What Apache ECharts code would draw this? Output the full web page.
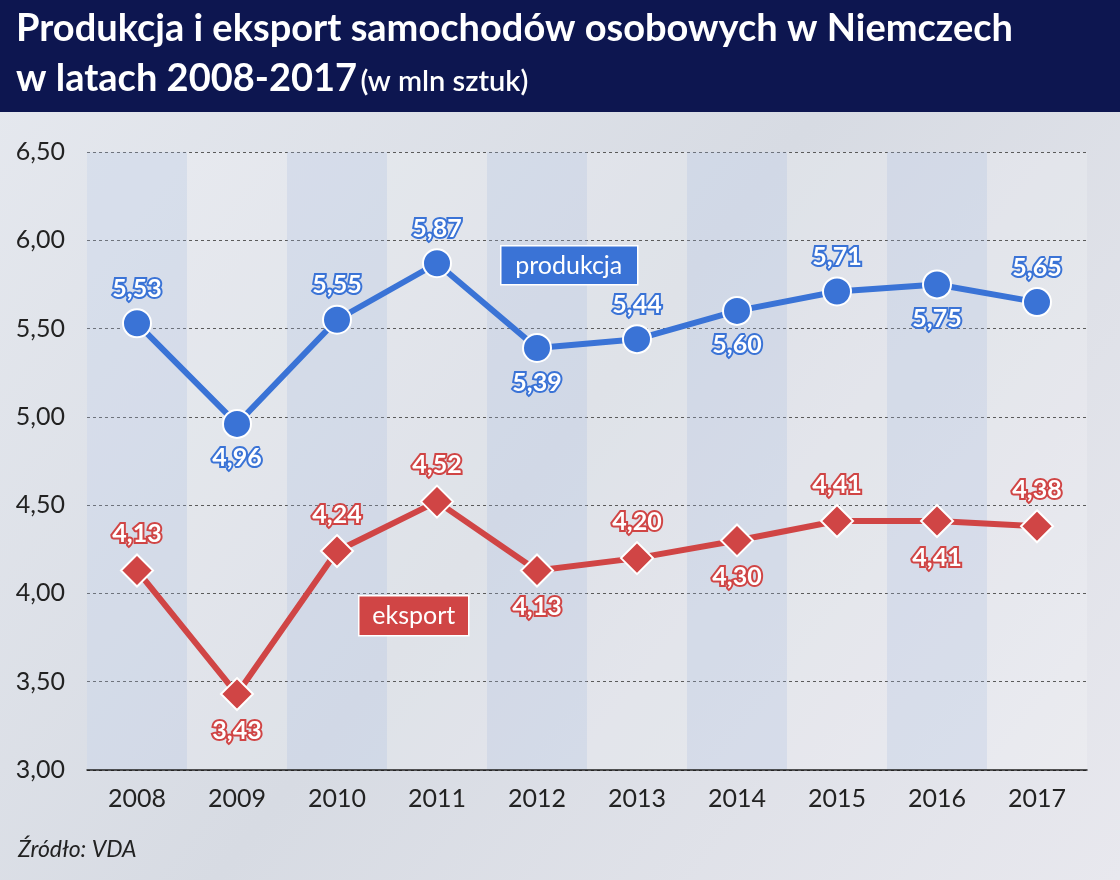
<!DOCTYPE html>
<html><head><meta charset="utf-8">
<script src="https://cdn.jsdelivr.net/npm/echarts@6/dist/echarts.min.js"></script>
<style>html,body{margin:0;padding:0}#c{width:1120px;height:880px}</style>
</head><body><div id="c"></div>
<script>
const years = ['2008','2009','2010','2011','2012','2013','2014','2015','2016','2017'];
const produkcja = [5.53,4.96,5.55,5.87,5.39,5.44,5.60,5.71,5.75,5.65];
const eksport = [4.13,3.43,4.24,4.52,4.13,4.20,4.30,4.41,4.41,4.38];
const prodPos = ['top','bottom','top','top','bottom','top','bottom','top','bottom','top'];
const eksPos = ['top','bottom','top','top','bottom','top','bottom','top','bottom','top'];
const fmt = v => v.toFixed(2).replace('.', ',');
function mk(vals, pos, color){
  return vals.map((v,i)=>({value:v,label:{position:pos[i],distance:7,
    formatter:fmt(v),color:'#fff',fontFamily:'Lato',fontWeight:'bold',fontSize:25,
    textBorderColor:color,textBorderWidth:4}}));
}
const chart = echarts.init(document.getElementById('c'));
chart.setOption({
  backgroundColor:{type:'linear',x:0,y:0,x2:1,y2:1,colorStops:[{offset:0,color:'#e6e9ef'},{offset:0.5,color:'#d7dbe3'},{offset:1,color:'#e8e8ee'}]},
  animation:false,
  graphic:[
    {type:'rect',left:0,top:0,z:10,shape:{width:1120,height:112},style:{fill:'#0d1650'}},
    {type:'text',left:16,top:10,z:11,style:{text:'Produkcja i eksport samochodów osobowych w Niemczech',fill:'#fff',font:'bold 38px Lato'}},
    {type:'text',left:16,top:60,z:11,style:{rich:{a:{fill:'#fff',font:'bold 38px Lato'},b:{fill:'#fff',font:'600 29px Lato',padding:[6,0,0,0]}},text:'{a|w latach 2008-2017} {b|(w mln sztuk)}'}},
    {type:'text',left:18,top:838,z:11,style:{text:'Źródło: VDA',fill:'#222',font:'italic 23px Lato'}},
    {type:'group',left:500,top:245,z:10,children:[
      {type:'rect',z:10,shape:{width:137,height:39},style:{fill:'#3a73d6',stroke:'#fff',lineWidth:1.5}},
      {type:'text',z:11,x:68,y:20,style:{text:'produkcja',fill:'#fff',font:'25px Lato',align:'center',verticalAlign:'middle'}}]},
    {type:'group',left:358,top:595,z:10,children:[
      {type:'rect',z:10,shape:{width:110,height:40},style:{fill:'#d04545',stroke:'#fff',lineWidth:1.5}},
      {type:'text',z:11,x:55,y:20,style:{text:'eksport',fill:'#fff',font:'25px Lato',align:'center',verticalAlign:'middle'}}]}
  ],
  grid:{left:87,right:33,top:152,bottom:110},
  xAxis:{type:'category',data:years,
    axisLine:{lineStyle:{color:'#222',width:1.5}},axisTick:{show:false},
    axisLabel:{color:'#222',fontFamily:'Lato',fontSize:25,margin:16},
    splitArea:{show:true,areaStyle:{color:['rgba(200,212,235,0.4)','rgba(255,255,255,0.2)']}}},
  yAxis:{type:'value',min:3,max:6.5,interval:0.5,
    axisLine:{show:false},axisTick:{show:false},
    axisLabel:{color:'#222',fontFamily:'Lato',fontSize:25,margin:22,formatter:v=>fmt(v)},
    splitLine:{lineStyle:{color:'#333',type:[3,3],width:1}}},
  series:[
    {type:'line',data:mk(produkcja,prodPos,'#3a73d6'),symbol:'circle',symbolSize:28,
     lineStyle:{color:'#3a73d6',width:6},itemStyle:{color:'#3a73d6',borderColor:'#fff',borderWidth:2},
     label:{show:true},z:3},
    {type:'line',data:mk(eksport,eksPos,'#d04545'),symbol:'diamond',symbolSize:32,
     lineStyle:{color:'#d04545',width:6},itemStyle:{color:'#d04545',borderColor:'#fff',borderWidth:2},
     label:{show:true},z:3}
  ]
});
</script></body></html>
